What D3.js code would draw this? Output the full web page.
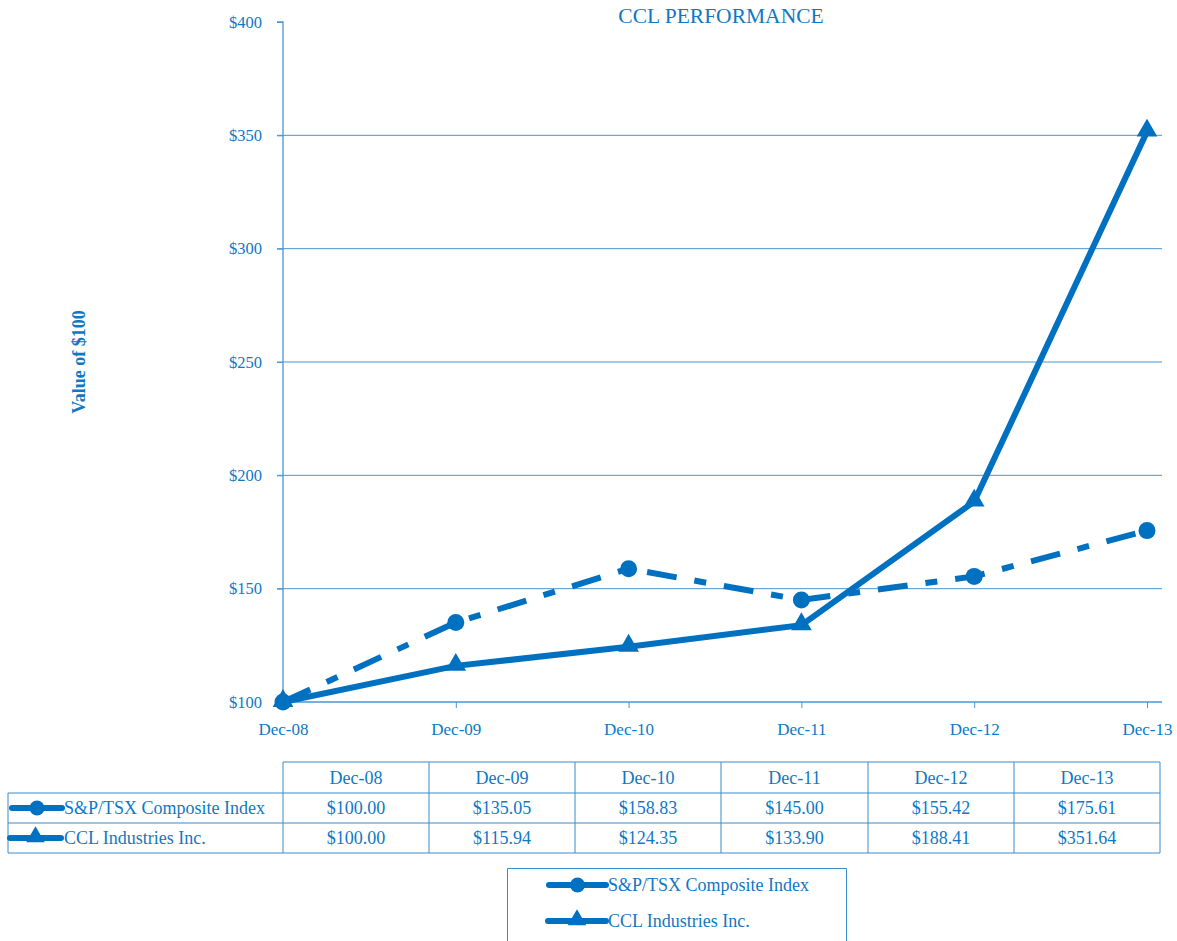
<!DOCTYPE html>
<html><head><meta charset="utf-8">
<script src="https://cdn.jsdelivr.net/npm/d3@7/dist/d3.min.js"></script>
<style>body{margin:0;background:#fff}svg{display:block}</style>
</head><body>
<svg id="c" width="1177" height="941"></svg>
<script>
const categories = ["Dec-08","Dec-09","Dec-10","Dec-11","Dec-12","Dec-13"];
const spTsx = [100.00,135.05,158.83,145.00,155.42,175.61];
const ccl = [100.00,115.94,124.35,133.90,188.41,351.64];
const seriesNames = ["S&P/TSX Composite Index","CCL Industries Inc."];
const yTicks = [100,150,200,250,300,350,400];

const BLUE = "#0070C0", TXT = "#0F78C4", GRID = "#4A96D2";
const FONT = "'Liberation Serif','Times New Roman',serif";
const svg = d3.select("#c");

const x = d3.scalePoint().domain(categories).range([283,1147]);
const y = d3.scaleLinear().domain([100,400]).range([702,22]);

// gridlines
svg.append("g").selectAll("line").data(yTicks.filter(d=>d>100 && d<400)).join("line")
  .attr("x1",277).attr("x2",1162).attr("y1",d=>y(d)).attr("y2",d=>y(d))
  .attr("stroke",GRID).attr("stroke-width",1);

// y axis
const ya = svg.append("g").attr("transform","translate(283,0)")
  .call(d3.axisLeft(y).tickValues(yTicks).tickSize(6).tickPadding(15).tickFormat(d=>"$"+d));
ya.select(".domain").attr("stroke",GRID).attr("stroke-width",1.3).attr("d","M-6,22H0V702");
ya.selectAll(".tick line").attr("stroke",GRID);
ya.selectAll("text").attr("fill",TXT).style("font-family",FONT).style("font-size","16.5px");

// x axis
const xa = svg.append("g").attr("transform","translate(0,702)")
  .call(d3.axisBottom(x).tickSize(6).tickPadding(15));
xa.select(".domain").attr("stroke",GRID).attr("stroke-width",1.3).attr("d","M283,0H1162");
xa.selectAll(".tick line").attr("stroke",GRID);
xa.selectAll("text").attr("fill",TXT).style("font-family",FONT).style("font-size","17px");

// title
svg.append("text").attr("x",721).attr("y",23).attr("text-anchor","middle")
  .attr("fill",TXT).style("font-family",FONT).style("font-size","21.5px").text("CCL PERFORMANCE");
// y label
svg.append("text").attr("transform","translate(85,362) rotate(-90)").attr("text-anchor","middle")
  .attr("fill",TXT).style("font-family",FONT).style("font-size","18px").style("font-weight","bold").text("Value of $100");

const line = d3.line().x((d,i)=>x(categories[i])).y(d=>y(d));
svg.append("path").datum(spTsx).attr("d",line).attr("fill","none").attr("stroke",BLUE)
  .attr("stroke-width",6).attr("stroke-dasharray","30,18,12,18");
svg.append("path").datum(ccl).attr("d",line).attr("fill","none").attr("stroke",BLUE)
  .attr("stroke-width",6);

const tri = d3.symbol().type(d3.symbolTriangle).size(185);
svg.append("g").selectAll("circle").data(spTsx).join("circle")
  .attr("cx",(d,i)=>x(categories[i])).attr("cy",d=>y(d)).attr("r",8.5).attr("fill",BLUE);
svg.append("g").selectAll("path").data(ccl).join("path")
  .attr("d",tri).attr("transform",(d,i)=>`translate(${x(categories[i])},${y(d)-1})`).attr("fill",BLUE);

// table
const cols = [283,429,575,721,868,1014,1160];
const rows = [762,793,823,853];
const tb = svg.append("g");
const BORDER = "#3A8CCC";
tb.append("line").attr("x1",283).attr("x2",1160).attr("y1",rows[0]).attr("y2",rows[0]).attr("stroke",BORDER);
[1,2,3].forEach(r=>tb.append("line").attr("x1",8).attr("x2",1160).attr("y1",rows[r]).attr("y2",rows[r]).attr("stroke",BORDER));
cols.forEach(c=>tb.append("line").attr("x1",c).attr("x2",c).attr("y1",rows[0]).attr("y2",rows[3]).attr("stroke",BORDER));
tb.append("line").attr("x1",8).attr("x2",8).attr("y1",rows[1]).attr("y2",rows[3]).attr("stroke",BORDER);

const cellText = (tx,ty,t,anchor)=>tb.append("text").attr("x",tx).attr("y",ty).attr("text-anchor",anchor||"middle")
  .attr("fill",TXT).style("font-family",FONT).style("font-size","18px").text(t);
categories.forEach((c,i)=>cellText((cols[i]+cols[i+1])/2,784,c));
spTsx.forEach((v,i)=>cellText((cols[i]+cols[i+1])/2,814,"$"+v.toFixed(2)));
ccl.forEach((v,i)=>cellText((cols[i]+cols[i+1])/2,844,"$"+v.toFixed(2)));

function legendSym(g,x0,x1,cy,k){
  g.append("line").attr("x1",x0).attr("x2",x1).attr("y1",cy).attr("y2",cy).attr("stroke",BLUE)
    .attr("stroke-width",6).attr("stroke-linecap","round");
  const mx=(x0+x1)/2;
  if(k===0) g.append("circle").attr("cx",mx).attr("cy",cy).attr("r",7.5).attr("fill",BLUE);
  else g.append("path").attr("d",d3.symbol().type(d3.symbolTriangle).size(150)).attr("transform",`translate(${mx},${cy-1})`).attr("fill",BLUE);
}
legendSym(tb,12,62,808,0);
legendSym(tb,10,61,838,1);
cellText(64,814,seriesNames[0],"start");
cellText(64,844,seriesNames[1],"start");

// legend box
const lg = svg.append("g");
lg.append("path").attr("d","M507.5,945V868.5H846.5V945").attr("fill","none").attr("stroke",BORDER);
legendSym(lg,549,606,885,0);
legendSym(lg,548,606,921,1);
lg.append("text").attr("x",608).attr("y",891).attr("fill",TXT).style("font-family",FONT).style("font-size","18px").text(seriesNames[0]);
lg.append("text").attr("x",608).attr("y",927).attr("fill",TXT).style("font-family",FONT).style("font-size","18px").text(seriesNames[1]);
</script>
</body></html>
